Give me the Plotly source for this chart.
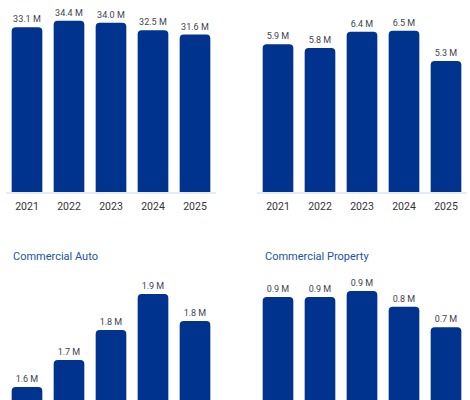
import plotly.graph_objects as go

years = ["2021", "2022", "2023", "2024", "2025"]

# Panel values (millions)
top_left_vals = [33.1, 34.4, 34.0, 32.5, 31.6]
top_right_vals = [5.93, 5.78, 6.44, 6.48, 5.26]
commercial_auto_vals = [1.60, 1.69, 1.79, 1.91, 1.82]
commercial_property_vals = [0.88, 0.88, 0.915, 0.823, 0.702]

titles = ["Commercial Auto", "Commercial Property"]

BAR = "#00338d"
LABEL = "#3d4350"
TICK = "#333333"
TITLE = "#2152a8"
FONT = "Roboto"

W, H = 470, 400

def px_x(a, b):
    return [a / W, b / W]

def px_y(top, bottom):
    return [(H - bottom) / H, (H - top) / H]

fig = go.Figure()

panels = [
    (top_left_vals, "x", "y"),
    (top_right_vals, "x2", "y2"),
    (commercial_auto_vals, "x3", "y3"),
    (commercial_property_vals, "x4", "y4"),
]

for vals, xa, ya in panels:
    fig.add_trace(go.Bar(
        x=years, y=vals, xaxis=xa, yaxis=ya,
        marker=dict(color=BAR, cornerradius=4, line=dict(width=0)),
        text=[f"{v:.1f} M" for v in vals],
        textposition="outside",
        textfont=dict(family=FONT, size=9, color=LABEL),
        cliponaxis=False,
        hoverinfo="skip",
        showlegend=False,
    ))

xdom_left = px_x(6, 216)
xdom_right = px_x(257, 467)
ydom_top = px_y(0, 192)
ydom_bot = px_y(272, 400)

def xaxis(dom, anchor, show):
    return dict(domain=dom, anchor=anchor, showgrid=False, zeroline=False,
                showline=show, linecolor="#e6ebf5", linewidth=2,
                showticklabels=show, ticks="", ticklabelstandoff=3,
                tickfont=dict(family=FONT, size=10.5, color=TICK),
                fixedrange=True)

def yaxis(dom, anchor, rng):
    return dict(domain=dom, anchor=anchor, range=rng, showgrid=False,
                zeroline=False, showline=False, showticklabels=False,
                ticks="", fixedrange=True)

fig.update_layout(
    width=W, height=H,
    margin=dict(l=0, r=0, t=0, b=0),
    paper_bgcolor="white", plot_bgcolor="white",
    bargap=0.27,
    font=dict(family=FONT),
    xaxis=xaxis(xdom_left, "y", True),
    xaxis2=xaxis(xdom_right, "y2", True),
    xaxis3=xaxis(xdom_left, "y3", False),
    xaxis4=xaxis(xdom_right, "y4", False),
    yaxis=yaxis(ydom_top, "x", [0, 38.55]),
    yaxis2=yaxis(ydom_top, "x2", [0, 7.71]),
    yaxis3=yaxis(ydom_bot, "x3", [1.5567, 1.5567 + 128 / 300]),
    yaxis4=yaxis(ydom_bot, "x4", [0.2757, 0.2757 + 128 / 170.5]),
)

for title, xpx in zip(titles, [11, 263]):
    fig.add_annotation(
        text=title, xref="paper", yref="paper",
        x=xpx / W, y=(H - 256.5) / H, xanchor="left", yanchor="middle",
        showarrow=False, font=dict(family=FONT, size=11, color=TITLE),
    )

fig.write_html(
    "out.html",
    config={"displayModeBar": False, "staticPlot": True},
    post_script="document.body.style.margin='0';document.body.style.overflow='hidden';",
)
